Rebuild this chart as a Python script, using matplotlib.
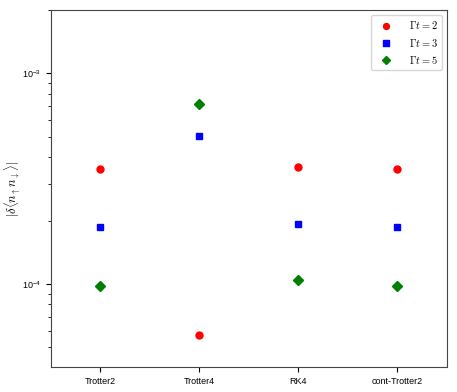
import numpy as np
import matplotlib
matplotlib.use('Agg')
import matplotlib.pyplot as plt

plt.rcParams['mathtext.fontset'] = 'cm'
plt.rcParams['font.family'] = ['Liberation Sans', 'DejaVu Sans']

methods = ['Trotter2', 'Trotter4', 'RK4', 'cont-Trotter2']
err_t2 = [3.52e-4, 5.73e-5, 3.59e-4, 3.52e-4]
err_t3 = [1.87e-4, 5.06e-4, 1.93e-4, 1.87e-4]
err_t5 = [9.78e-5, 7.18e-4, 1.04e-4, 9.75e-5]

x = np.arange(len(methods))

fig = plt.figure(figsize=(4.57, 3.92), dpi=100)
ax = fig.add_axes([0.1116, 0.0638, 0.8664, 0.9107])

ax.plot(x, err_t2, 'o', color='red', ms=5, label=r'$\Gamma t = 2$')
ax.plot(x, err_t3, 's', color='blue', ms=5, label=r'$\Gamma t = 3$')
ax.plot(x, err_t5, 'D', color='green', ms=5, label=r'$\Gamma t = 5$')

ax.set_yscale('log')
ax.set_ylim(4.04e-5, 2.0e-3)
ax.set_xlim(-0.5, 3.5)
ax.set_xticks(x)
ax.set_xticklabels(methods, fontsize=6.5)
ax.tick_params(axis='y', labelsize=6.5)
ax.set_ylabel(r'$|\delta\langle n_\uparrow n_\downarrow\rangle|$', fontsize=9)
ax.yaxis.set_label_coords(-0.068, 0.5)

for s in ax.spines.values():
    s.set_color('#444444')

ax.legend(loc='upper right', fontsize=7.5, handletextpad=1.2, markerscale=0.85)

fig.savefig('out.png', dpi=100)
